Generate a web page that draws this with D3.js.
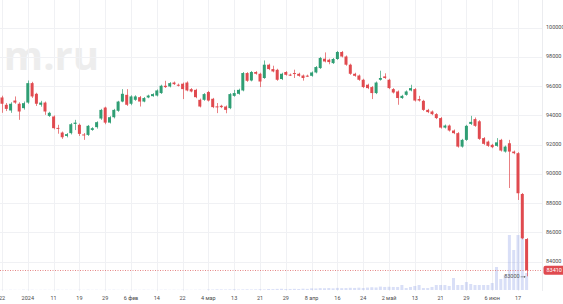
<!DOCTYPE html>
<html><head><meta charset="utf-8">
<script src="https://cdn.jsdelivr.net/npm/d3@7/dist/d3.min.js"></script>
<style>html,body{margin:0;padding:0;background:#fff;}svg{display:block;font-family:Roboto,"Liberation Sans",sans-serif;}</style>
</head><body><svg id="c" width="563" height="304"></svg>
<script>
const dates = ["2023-12-22","2023-12-25","2023-12-26","2023-12-27","2023-12-28","2023-12-29",
"2024-01-03","2024-01-04","2024-01-05","2024-01-08","2024-01-09","2024-01-10","2024-01-11","2024-01-12","2024-01-15","2024-01-16","2024-01-17","2024-01-18","2024-01-19","2024-01-22","2024-01-23","2024-01-24","2024-01-25","2024-01-26","2024-01-29","2024-01-30","2024-01-31",
"2024-02-01","2024-02-02","2024-02-05","2024-02-06","2024-02-07","2024-02-08","2024-02-09","2024-02-12","2024-02-13","2024-02-14","2024-02-15","2024-02-16","2024-02-19","2024-02-20","2024-02-21","2024-02-22","2024-02-26","2024-02-27","2024-02-28","2024-02-29",
"2024-03-01","2024-03-04","2024-03-05","2024-03-06","2024-03-07","2024-03-11","2024-03-12","2024-03-13","2024-03-14","2024-03-15","2024-03-18","2024-03-19","2024-03-20","2024-03-21","2024-03-22","2024-03-25","2024-03-26","2024-03-27","2024-03-28","2024-03-29",
"2024-04-01","2024-04-02","2024-04-03","2024-04-04","2024-04-05","2024-04-08","2024-04-09","2024-04-10","2024-04-11","2024-04-12","2024-04-15","2024-04-16","2024-04-17","2024-04-18","2024-04-19","2024-04-22","2024-04-23","2024-04-24","2024-04-25","2024-04-26","2024-04-27","2024-04-29","2024-04-30",
"2024-05-02","2024-05-03","2024-05-06","2024-05-07","2024-05-08","2024-05-10","2024-05-13","2024-05-14","2024-05-15","2024-05-16","2024-05-17","2024-05-20","2024-05-21","2024-05-22","2024-05-23","2024-05-24","2024-05-27","2024-05-28","2024-05-29","2024-05-30","2024-05-31",
"2024-06-03","2024-06-04","2024-06-05","2024-06-06","2024-06-07","2024-06-10","2024-06-11","2024-06-13","2024-06-14","2024-06-17","2024-06-18","2024-06-19"];

const open = [95230,94730,94340,95020,94800,94500,94880,96210,95480,94730,94880,93970,93930,93150,92830,92600,92790,93420,93360,92700,92670,93010,93200,93790,94540,93510,93880,94320,94950,95410,94800,95070,95250,94950,95230,95320,95360,95530,96030,95980,96250,96100,96170,96250,95800,95750,95070,95070,95600,95140,94620,94660,94610,94500,95340,95480,95710,96900,96390,96970,96850,96560,97470,97170,97120,96490,96970,96790,96900,96850,96730,96720,96710,96940,97240,97880,97810,97580,97860,98340,98030,97470,96850,96730,96440,96100,95940,95530,96440,96670,96440,95800,95640,95190,95410,95710,95800,95120,95000,94380,94270,94090,93820,93170,93310,92970,92790,91870,92330,93420,93750,93600,92450,92210,91990,91920,92330,91530,92100,91530,91420,88630,85550];
const high = [95350,94850,94900,95300,94900,94950,96390,96300,95550,95000,94950,94250,94000,93360,92900,92800,93480,93700,93450,92800,93350,93200,93600,94450,94600,93950,94450,95000,95800,95800,95380,95380,95330,95260,95420,95520,95780,96100,96370,96280,96320,96180,96250,96330,95870,95820,95150,95530,95680,95200,94850,94730,94680,95530,95750,95830,96970,96960,97040,97030,96920,97760,97540,97400,97190,96920,97030,96860,97130,96920,96800,96790,97010,97380,98000,98310,97880,97930,98410,98410,98100,97540,96920,96800,96510,96170,96010,96320,97060,96880,96510,95870,95710,95410,95710,96100,95870,95340,95070,94450,94340,94160,93890,93380,93380,93040,92860,92400,93360,93970,93860,93680,92520,92280,92060,92450,92400,91940,92330,91600,91490,88700,85620];
const low = [94180,94300,94180,94800,93700,94400,94800,95200,94650,94600,94040,93900,93050,92750,92400,92500,92700,93000,92600,92330,92600,92950,93100,93700,93400,93450,93800,94250,94900,94650,94700,95000,94610,94900,95180,95280,95300,95470,95880,95920,96080,95980,95120,95650,95580,95180,94550,95000,94950,94500,94160,94500,94150,94430,95280,95420,95650,96300,96330,96790,95940,96500,97100,96950,96370,96420,96720,96700,96560,96650,96380,96640,96650,96880,97180,97630,97500,97520,97800,97970,97400,96780,96650,96370,95870,95800,95120,95460,96380,96500,95800,95500,94730,95130,95350,95650,94950,94950,94310,94160,94020,93750,93100,93110,92900,92720,91800,91800,92260,93350,93220,92330,91990,91850,91760,91860,91530,91460,89040,91350,88220,85530,83000];
const close = [94800,94450,94800,94880,94270,94840,96210,95300,94800,94880,94270,94180,93130,93100,92510,92720,93400,93510,92740,92670,93290,93130,93540,94380,93510,93880,94380,94950,95480,94730,95300,95300,94950,95190,95360,95460,95710,96030,95940,96210,96140,96060,95800,95710,95640,95250,94610,95460,95020,94570,94600,94570,94380,95460,95530,95750,96900,96370,96970,96850,96320,97470,97170,97010,96440,96850,96780,96770,96880,96710,96560,96700,96940,97310,97930,97690,97650,97860,98340,98030,97470,96850,96710,96440,95940,95870,95530,96250,96560,96560,95870,95570,95190,95340,95640,95870,95020,95020,94380,94230,94090,93820,93170,93310,92970,92790,91870,92330,93290,93560,93290,92400,92060,91920,91830,92160,91600,91870,91530,91420,88680,85600,83410];
const volume = [3,2,4,3,2,5,3,4,2,3,4,3,2,5,3,4,3,2,4,3,5,3,4,2,3,4,5,3,4,3,2,4,3,5,4,3,2,4,5,3,4,3,5,4,3,4,5,3,
9,8,12,10,9,11,13,8,10,12,9,11,14,10,
18,16,20,22,17,19,21,18,24,20,
30,28,34,32,36,30,38,33,35,40,37,42,36,44,
50,46,62,55,58,
55,55,91,36,55,73,91,36,36,55,91,91,91,73,218,91,91,145,109,91,91,91,91,127,418,200,273,1000,727,1000,982,309];

const tickDates = ["2023-12-22","2024-01-03","2024-01-11","2024-01-19","2024-01-29","2024-02-06","2024-02-14","2024-02-22","2024-03-04","2024-03-13","2024-03-21","2024-03-29","2024-04-08","2024-04-16","2024-04-24","2024-05-02","2024-05-13","2024-05-21","2024-05-29","2024-06-06","2024-06-17"];
const tickLabels = ["22","2024","11","19","29","6 фев","14","22","4 мар","13","21","29","8 апр","16","24","2 май","13","21","29","6 июн","17"];
const priceTicks = [84000,86000,88000,90000,92000,94000,96000,98000,100000];
const lastPrice = 83410;
const lowMark = 83000;

const svg = d3.select("#c");
const W = 563, plotR = 542, plotB = 291;
const upColor = "#2f9e74", downColor = "#e04a4f";

const x = d3.scaleBand().domain(dates).range([-0.15, -0.15 + dates.length * 4.3]).paddingInner(0.3).paddingOuter(0.15);
const step = 4.3;
const cx = d => -0.15 + dates.indexOf(d) * step + step / 2;
const y = d3.scaleLinear().domain([84000, 100000]).range([261.7, 27.7]);
const yv = d3.scaleLinear().domain([0, 1000]).range([290, 235]);

// watermark
svg.append("text").attr("x", 99).attr("y", 70).attr("text-anchor", "end")
  .attr("font-size", 40).attr("font-weight", "bold").attr("font-family", "'Open Sans',Roboto,sans-serif")
  .attr("fill", "#ededed").text("m.ru");

// grid
const g = svg.append("g");
g.selectAll(".hg").data(priceTicks).join("line")
  .attr("x1", 0).attr("x2", plotR).attr("y1", d => Math.round(y(d)) + 0.5).attr("y2", d => Math.round(y(d)) + 0.5)
  .attr("stroke", "#f0f1f4").attr("stroke-width", 1);
g.selectAll(".vg").data(tickDates).join("line")
  .attr("x1", d => Math.round(cx(d)) + 0.5).attr("x2", d => Math.round(cx(d)) + 0.5).attr("y1", 0).attr("y2", plotB)
  .attr("stroke", "#f0f1f4").attr("stroke-width", 1);
svg.append("line").attr("x1", plotR + 0.5).attr("x2", plotR + 0.5).attr("y1", 0).attr("y2", plotB)
  .attr("stroke", "#ebecef");

const data = dates.map((d, i) => ({d, o: open[i], h: high[i], l: low[i], c: close[i], v: volume[i]}));

// volume
svg.append("g").selectAll("rect").data(data).join("rect")
  .attr("x", d => cx(d.d) - 1.5).attr("width", 3)
  .attr("y", d => yv(d.v)).attr("height", d => yv(0) - yv(d.v))
  .attr("fill", "rgba(130,148,230,0.30)");

// current price dotted line
svg.append("line").attr("x1", 0).attr("x2", plotR).attr("y1", Math.round(y(lastPrice)) + 0.5).attr("y2", Math.round(y(lastPrice)) + 0.5)
  .attr("stroke", "#e06a6a").attr("stroke-dasharray", "1,1.5").attr("stroke-width", 1).attr("opacity", 0.8);

// candles
const cg = svg.append("g");
cg.selectAll("line").data(data).join("line")
  .attr("x1", d => Math.round(cx(d.d)) + 0.5).attr("x2", d => Math.round(cx(d.d)) + 0.5)
  .attr("y1", d => y(d.h)).attr("y2", d => y(d.l))
  .attr("stroke", d => d.c >= d.o ? upColor : downColor).attr("stroke-opacity", 0.7).attr("stroke-width", 1);
cg.selectAll("rect").data(data).join("rect")
  .attr("x", d => cx(d.d) - 1.5).attr("width", 3)
  .attr("y", d => y(Math.max(d.o, d.c)))
  .attr("height", d => Math.max(1, Math.abs(y(d.o) - y(d.c))))
  .attr("fill", d => d.c >= d.o ? upColor : downColor);

// low marker
const lastD = dates[dates.length - 1];
svg.append("text").attr("x", cx(lastD) - 7).attr("y", y(lowMark) + 0.5).attr("text-anchor", "end")
  .attr("dominant-baseline", "middle").attr("font-size", 5.5).attr("fill", "#555").text(lowMark);
svg.append("line").attr("x1", cx(lastD) - 6).attr("x2", cx(lastD) - 1.5).attr("y1", y(lowMark) + 0.5).attr("y2", y(lowMark) + 0.5)
  .attr("stroke", "#666").attr("stroke-width", 0.6);
svg.append("path").attr("d", `M${cx(lastD) - 1},${y(lowMark) + 0.5} l-1.6,-1.1 l0,2.2 z`).attr("fill", "#666");

// price axis labels
svg.append("g").selectAll("text").data(priceTicks).join("text")
  .attr("x", 546).attr("y", d => y(d)).attr("dominant-baseline", "middle")
  .attr("font-size", 5.5).attr("fill", "#4a4a4a").text(d => d);

// last price label
svg.append("rect").attr("x", 543.5).attr("y", y(lastPrice) - 4.5).attr("width", 24).attr("height", 9).attr("rx", 2)
  .attr("fill", "#e04a4f");
svg.append("text").attr("x", 546.5).attr("y", y(lastPrice) + 0.3).attr("dominant-baseline", "middle")
  .attr("font-size", 5.5).attr("fill", "#fff").text(lastPrice);

// time axis labels
svg.append("g").selectAll("text").data(tickDates).join("text")
  .attr("x", d => cx(d)).attr("y", 298.5).attr("text-anchor", "middle").attr("dominant-baseline", "middle")
  .attr("font-size", 5.5).attr("fill", "#4a4a4a").text((d, i) => tickLabels[i]);
</script></body></html>
